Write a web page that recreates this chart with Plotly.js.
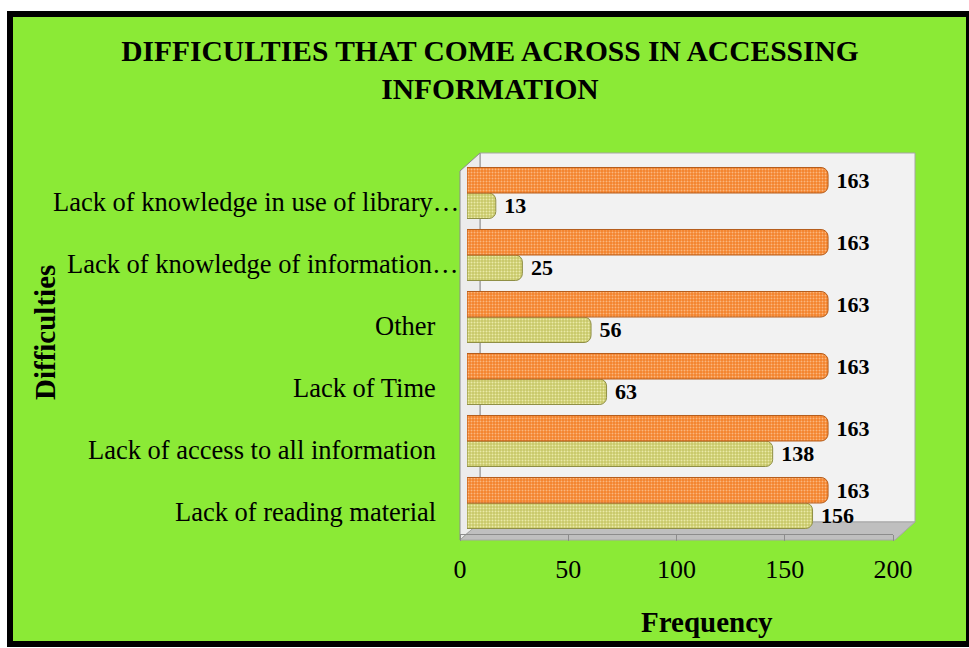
<!DOCTYPE html>
<html>
<head>
<meta charset="utf-8">
<script src="https://cdn.plot.ly/plotly-3.0.1.min.js"></script>
<style>
  html, body { margin: 0; padding: 0; background: #ffffff; width: 969px; height: 648px; overflow: hidden; }
  #frame { position: absolute; left: 7px; top: 11px; width: 953px; height: 624px; border: 6px solid #000; background: #8bea36; }
  #chart { width: 953px; height: 624px; }
</style>
</head>
<body>
<div id="frame"><div id="chart"></div></div>
<script>
// ---- data ----
const categories = [
  "Lack of reading material",
  "Lack of access to all information",
  "Lack of Time",
  "Other",
  "Lack of knowledge of information\u2026",
  "Lack of knowledge in use of library\u2026"
];
const difficultyCounts = [156, 138, 63, 56, 25, 13];
const totalCounts = [163, 163, 163, 163, 163, 163];
const xTickValues = [0, 50, 100, 150, 200];
const chartTitle = "DIFFICULTIES THAT COME ACROSS IN ACCESSING<br>INFORMATION";
const xTitle = "Frequency";
const yTitle = "Difficulties";

const serif = "Liberation Serif, Times New Roman, serif";

const traces = [
  {
    type: "bar", orientation: "h", name: "Difficulties",
    y: categories, x: difficultyCounts, xaxis: "x", yaxis: "y",
    marker: {
      color: "#c8c868",
      cornerradius: 7,
      line: { color: "#8f8f45", width: 1 },
      pattern: { shape: ".", bgcolor: "#c8c868", fgcolor: "#eaeaa8", size: 3, solidity: 0.35 }
    },
    text: difficultyCounts, texttemplate: " %{x}", textposition: "outside",
    textfont: { family: serif, size: 22, color: "#000", weight: "bold" },
    constraintext: "none", cliponaxis: false, hoverinfo: "skip"
  },
  {
    type: "bar", orientation: "h", name: "Total",
    y: categories, x: totalCounts, xaxis: "x", yaxis: "y",
    marker: {
      color: "#f4822a",
      cornerradius: 7,
      line: { color: "#b55d1c", width: 1 },
      pattern: { shape: ".", bgcolor: "#f4822a", fgcolor: "#fab67e", size: 3, solidity: 0.35 }
    },
    text: totalCounts, texttemplate: " %{x}", textposition: "outside",
    textfont: { family: serif, size: 22, color: "#000", weight: "bold" },
    constraintext: "none", cliponaxis: false, hoverinfo: "skip"
  },
  {
    // invisible helper trace so the tick axis is drawn
    type: "scatter", mode: "markers", x: [xTickValues[0], xTickValues[xTickValues.length - 1]],
    y: [categories[0], categories[0]], xaxis: "x2", yaxis: "y",
    marker: { opacity: 0 }, hoverinfo: "skip", showlegend: false
  }
];

// page -> paper helpers (plot area spans page x 460..915, y 153..540)
const PX = X => (X - 460) / 455;
const PY = Y => (540 - Y) / 387;

// category labels (truncated labels reach further right, as in the original)
const categoryLabels = categories.map(c => ({
  text: c, xref: "paper", yref: "y", x: c.endsWith("\u2026") ? PX(461) : PX(438), y: c,
  xanchor: "right", yanchor: "middle", yshift: -9, showarrow: false,
  font: { family: serif, size: 26.5, color: "#000" }
}));

const layout = {
  width: 953, height: 624,
  margin: { l: 447, r: 51, t: 136, b: 101 },
  paper_bgcolor: "#8bea36",
  plot_bgcolor: "rgba(0,0,0,0)",
  showlegend: false,
  barmode: "group",
  bargap: 0.177,
  bargroupgap: 0,
  title: {
    text: chartTitle,
    font: { family: serif, size: 29.5, color: "#000", weight: "bold" },
    x: 0.5005, xanchor: "center", y: 0.93, yanchor: "top", xref: "container", yref: "container"
  },
  xaxis: {
    domain: [PX(467), PX(910)], range: [0, 200], anchor: "y",
    showticklabels: false, showgrid: false, zeroline: false, showline: false, ticks: ""
  },
  xaxis2: {
    domain: [0, PX(893)], range: [0, 200], anchor: "y",
    tickvals: xTickValues, ticks: "outside", ticklen: 6, tickcolor: "#8c8c8c", tickwidth: 1,
    showline: true, linecolor: "#8c8c8c", linewidth: 1,
    showgrid: false, zeroline: false,
    tickfont: { family: serif, size: 26, color: "#000" },
    ticklabelstandoff: 6
  },
  yaxis: {
    type: "category", categoryorder: "array", categoryarray: categories,
    domain: [PY(534), PY(162)], anchor: "free", position: 0,
    showgrid: false, zeroline: false, showline: false, ticks: "", showticklabels: false
  },
  shapes: [
    { type: "path", xref: "paper", yref: "paper", layer: "below",
      path: `M ${PX(480)} ${PY(153)} L ${PX(915)} ${PY(153)} L ${PX(915)} ${PY(522)} L ${PX(480)} ${PY(522)} Z`,
      fillcolor: "#f2f2f2", line: { color: "#a6a6a6", width: 1 } },
    { type: "path", xref: "paper", yref: "paper", layer: "below",
      path: `M ${PX(460)} ${PY(171)} L ${PX(480)} ${PY(153)} L ${PX(480)} ${PY(522)} L ${PX(460)} ${PY(540)} Z`,
      fillcolor: "#ececec", line: { color: "#8c8c8c", width: 1 } },
    { type: "path", xref: "paper", yref: "paper", layer: "below",
      path: `M ${PX(460)} ${PY(540)} L ${PX(480)} ${PY(522)} L ${PX(915)} ${PY(522)} L ${PX(895)} ${PY(540)} Z`,
      fillcolor: "#bfbfbf", line: { color: "#a6a6a6", width: 1 } }
  ],
  annotations: categoryLabels.concat([
    { text: xTitle, xref: "paper", yref: "paper", x: PX(707), y: PY(622),
      xanchor: "center", yanchor: "middle", showarrow: false,
      font: { family: serif, size: 29, color: "#000", weight: "bold" } },
    { text: yTitle, xref: "paper", yref: "paper", x: PX(45), y: PY(333),
      xanchor: "center", yanchor: "middle", showarrow: false, textangle: -90,
      font: { family: serif, size: 29, color: "#000", weight: "bold" } }
  ])
};

Plotly.newPlot("chart", traces, layout, { staticPlot: true, displayModeBar: false });
</script>
</body>
</html>
